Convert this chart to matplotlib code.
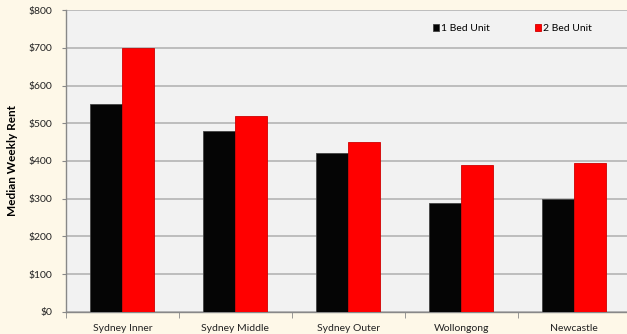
import matplotlib.pyplot as plt
import numpy as np

regions = ["Sydney Inner", "Sydney Middle", "Sydney Outer", "Wollongong", "Newcastle"]
one_bed = [550, 480, 420, 290, 300]
two_bed = [700, 520, 450, 390, 395]
y_ticks = [0, 100, 200, 300, 400, 500, 600, 700, 800]

plt.rcParams['font.family'] = ['Lato', 'DejaVu Sans']

fig = plt.figure(figsize=(6.27, 3.34), dpi=100, facecolor='#FEF8E8')
ax = fig.add_axes([0.105, 0.066, 0.901, 0.904])
ax.set_facecolor('#F2F2F2')

x = np.arange(len(regions))
w = 0.283
ax.bar(x - w / 2, one_bed, w, color='#050505', edgecolor='#444444', linewidth=0.6,
       label='1 Bed Unit', zorder=3)
ax.bar(x + w / 2, two_bed, w, color='#FF0000', edgecolor='#D00000', linewidth=0.6,
       label='2 Bed Unit', zorder=3)

ax.set_xlim(-0.5, len(regions) - 0.5)
ax.set_ylim(0, 800)
ax.set_yticks(y_ticks)
ax.set_yticklabels([f"${v}" for v in y_ticks], fontsize=7.5, color='#222222')
ax.yaxis.grid(True, color='#B4B4B4', linewidth=1.2, zorder=0)

ax.set_xticks(x)
ax.set_xticklabels(regions, fontsize=7.5, color='#222222')
ax.set_xticks(np.arange(len(regions) + 1) - 0.5, minor=True)
ax.tick_params(axis='x', which='major', length=0, pad=9)
ax.tick_params(axis='x', which='minor', length=4, color='#888888')
ax.tick_params(axis='y', length=3, color='#888888', pad=7)

for side in ['top', 'right']:
    ax.spines[side].set_visible(False)
for side in ['left', 'bottom']:
    ax.spines[side].set_color('#888888')
    ax.spines[side].set_linewidth(1.0)

ax.set_ylabel("Median Weekly Rent", fontsize=8.5, fontweight='bold', labelpad=7)

leg = ax.legend(loc='upper right', bbox_to_anchor=(0.948, 0.985), ncol=2, frameon=False,
                fontsize=7.5, handlelength=0.6, handleheight=0.6, handletextpad=0.2,
                columnspacing=4.3)

fig.savefig("out.png", dpi=100, facecolor=fig.get_facecolor())
